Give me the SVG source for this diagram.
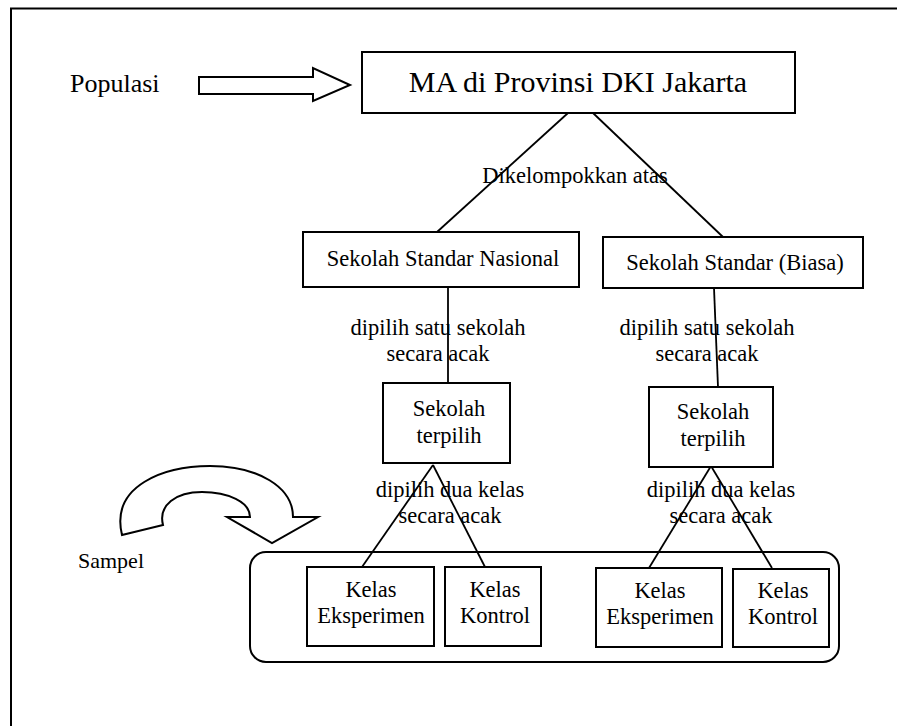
<svg xmlns="http://www.w3.org/2000/svg" width="897" height="726" viewBox="0 0 897 726">
<style>
.box{fill:#fff;stroke:#000;stroke-width:2}
.ln{fill:none;stroke:#000;stroke-width:1.8}
text{font-family:"Liberation Serif","Times New Roman","DejaVu Serif",serif;font-size:22.5px;fill:#000}
.c{text-anchor:middle}
.big{font-size:30px}
.pop{font-size:26px}
.smp{font-size:22px}
</style>
<rect width="897" height="726" fill="#fff"/>
<path d="M11,726 L11,8.5 L897,8.5" fill="none" stroke="#000" stroke-width="2"/>

<g id="connectors">
  <line class="ln" x1="568" y1="113" x2="437" y2="232"/>
  <line class="ln" x1="593" y1="113" x2="723" y2="237"/>
  <line class="ln" x1="448" y1="287" x2="448" y2="383"/>
  <line class="ln" x1="714" y1="288" x2="718" y2="387"/>
  <line class="ln" x1="433" y1="465" x2="362" y2="567"/>
  <line class="ln" x1="433" y1="465" x2="485" y2="567"/>
  <line class="ln" x1="711" y1="466" x2="649" y2="568"/>
  <line class="ln" x1="711" y1="466" x2="772" y2="568"/>
</g>

<g id="populasi">
  <text class="pop" x="70" y="92">Populasi</text>
  <path d="M199,77 L313,77 L313,68 L350,85 L313,101 L313,94 L199,94 Z" fill="#fff" stroke="#000" stroke-width="2"/>
</g>

<g id="ma">
  <rect class="box" x="362" y="52" width="433" height="61"/>
  <text class="c big" x="578" y="92">MA di Provinsi DKI Jakarta</text>
</g>

<g id="label-dikelompokkan">
  <text class="c" x="575" y="183">Dikelompokkan atas</text>
</g>

<g id="ssn">
  <rect class="box" x="303" y="232" width="276" height="55"/>
  <text class="c" x="443" y="266">Sekolah Standar Nasional</text>
</g>

<g id="ssb">
  <rect class="box" x="603" y="237" width="260" height="51"/>
  <text class="c" x="735" y="270">Sekolah Standar (Biasa)</text>
</g>

<g id="label-satu-left">
  <text class="c" x="438" y="335">dipilih satu sekolah</text>
  <text class="c" x="438" y="361">secara acak</text>
</g>
<g id="label-satu-right">
  <text class="c" x="707" y="335">dipilih satu sekolah</text>
  <text class="c" x="707" y="361">secara acak</text>
</g>

<g id="terpilih-left">
  <rect class="box" x="383" y="383" width="127" height="80"/>
  <text class="c" x="449" y="416">Sekolah</text>
  <text class="c" x="449" y="443">terpilih</text>
</g>
<g id="terpilih-right">
  <rect class="box" x="649" y="387" width="124" height="80"/>
  <text class="c" x="713" y="419">Sekolah</text>
  <text class="c" x="713" y="446">terpilih</text>
</g>

<g id="label-dua-left">
  <text class="c" x="450" y="497">dipilih dua kelas</text>
  <text class="c" x="450" y="523">secara acak</text>
</g>
<g id="label-dua-right">
  <text class="c" x="721" y="497">dipilih dua kelas</text>
  <text class="c" x="721" y="523">secara acak</text>
</g>

<g id="sampel">
  <path d="M122,535 C110,485 165,466 210,466 C258,466 293,487 293,517 L318,517 L272,543 L227,517 L250,517 C250,502 228,492 202,492 C176,492 158,505 163,525 Z" fill="#fff" stroke="#000" stroke-width="2"/>
  <text class="smp" x="78" y="568">Sampel</text>
  <rect x="250" y="552" width="589" height="110" rx="16" ry="16" fill="none" stroke="#000" stroke-width="2"/>
</g>

<g id="eksperimen-left">
  <rect class="box" x="307" y="567" width="127" height="79"/>
  <text class="c" x="371" y="597">Kelas</text>
  <text class="c" x="371" y="623">Eksperimen</text>
</g>
<g id="kontrol-left">
  <rect class="box" x="445" y="567" width="96" height="79"/>
  <text class="c" x="495" y="597">Kelas</text>
  <text class="c" x="495" y="623">Kontrol</text>
</g>
<g id="eksperimen-right">
  <rect class="box" x="596" y="568" width="126" height="79"/>
  <text class="c" x="660" y="598">Kelas</text>
  <text class="c" x="660" y="624">Eksperimen</text>
</g>
<g id="kontrol-right">
  <rect class="box" x="733" y="569" width="96" height="78"/>
  <text class="c" x="783" y="598">Kelas</text>
  <text class="c" x="783" y="624">Kontrol</text>
</g>
</svg>
